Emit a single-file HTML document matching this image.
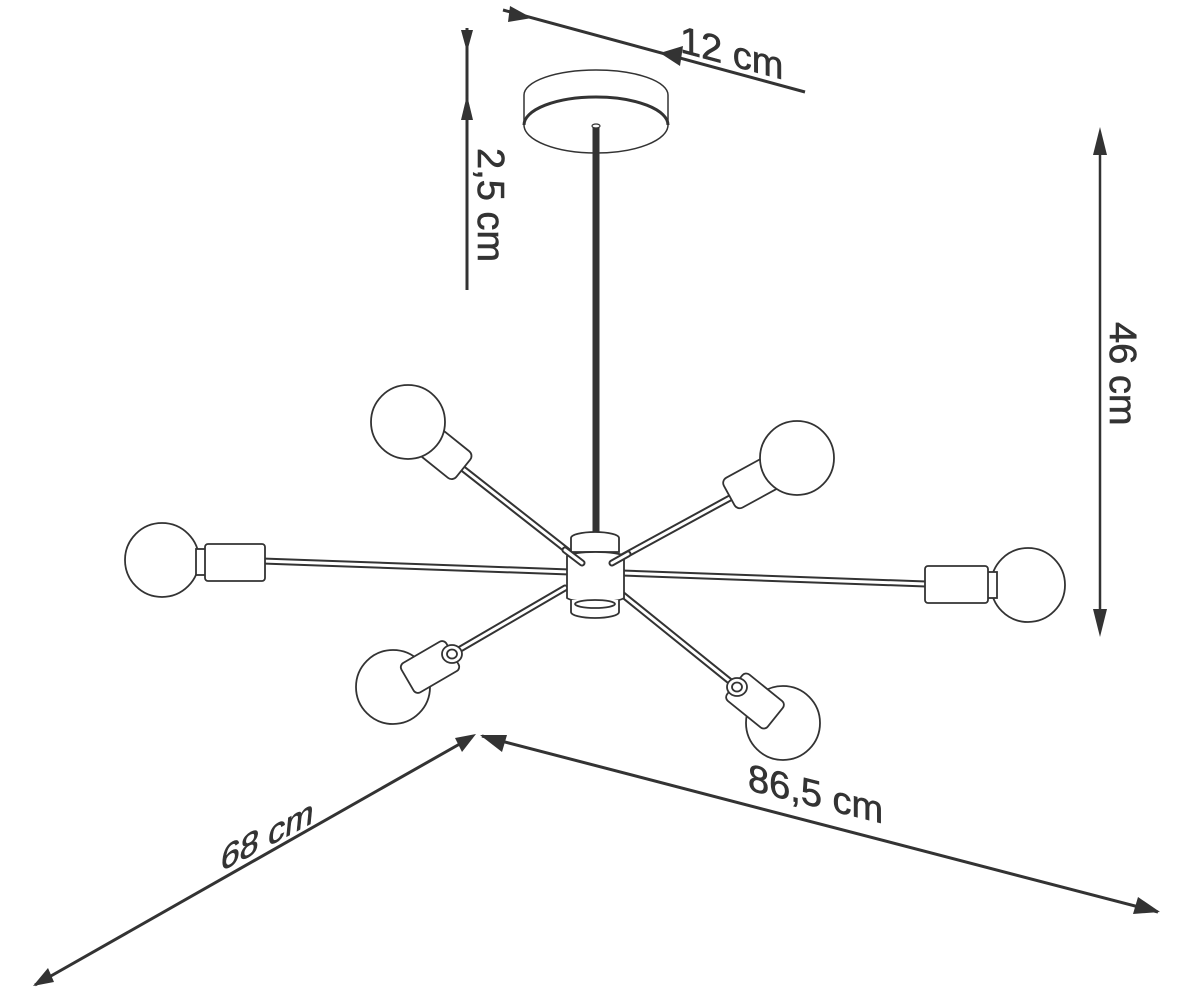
<!DOCTYPE html>
<html><head><meta charset="utf-8"><style>
html,body{margin:0;padding:0;background:#fff;}
svg{display:block;}
text{font-family:"Liberation Sans",sans-serif;fill:#333;stroke:#333;stroke-width:0.6;}
</style></head><body>
<svg width="1200" height="1006" viewBox="0 0 1200 1006" xmlns="http://www.w3.org/2000/svg">
<g stroke="#333" stroke-width="3" fill="none">
<line x1="503" y1="10" x2="805" y2="92"/>
<path d="M510,6 L532,18 L508,22 z" fill="#333" stroke="none"/>
<path d="M660,53 L683,46 L680,66 z" fill="#333" stroke="none"/>
<line x1="467" y1="28" x2="467" y2="290"/>
<path d="M461,30 L473,30 L467,52 z" fill="#333" stroke="none"/>
<path d="M467,95 L473,120 L461,120 z" fill="#333" stroke="none"/>
<line x1="1100" y1="135" x2="1100" y2="628" stroke-width="2.5"/>
<path d="M1100,127 L1107,155 L1093,155 z" fill="#333" stroke="none"/>
<path d="M1100,637 L1107,609 L1093,609 z" fill="#333" stroke="none"/>
<line x1="482" y1="736" x2="1158" y2="912"/>
<path d="M480,735 L507,735 L502,752 z" fill="#333" stroke="none"/>
<path d="M1160,912 L1133,914 L1138,897 z" fill="#333" stroke="none"/>
<line x1="472" y1="737" x2="35" y2="985"/>
<path d="M476,734 L462,752 L455,738 z" fill="#333" stroke="none"/>
<path d="M33,986 L48,968 L54,982 z" fill="#333" stroke="none"/>
</g>
<text font-size="38" transform="translate(680,52) skewY(15)">12 cm</text>
<text font-size="38" transform="translate(478,148) rotate(90)">2,5 cm</text>
<text font-size="38" transform="translate(1110,322) rotate(90)">46 cm</text>
<text font-size="38" transform="translate(748,790) skewY(14)">86,5 cm</text>
<text font-size="34" transform="translate(220,872) skewY(-28) skewX(-6)">68 cm</text>

<g stroke="#333" fill="#fff">
<path d="M524,95 L524,125 A72,28 0 0 0 668,125 L668,95" stroke-width="1.5"/>
<path d="M524,95 A72,25 0 0 1 668,95" stroke-width="1.5" fill="none"/>
<path d="M524,125 A72,28 0 0 1 668,125" fill="none" stroke-width="3"/>
</g>
<line x1="596" y1="126" x2="596" y2="532" stroke="#333" stroke-width="7"/>
<ellipse cx="596" cy="126" rx="4" ry="2" fill="#fff" stroke="#333" stroke-width="1.2"/>

<g stroke-linecap="round">
<g stroke="#333" stroke-width="7">
<line x1="262" y1="561" x2="570" y2="572"/>
<line x1="622" y1="573" x2="926" y2="584"/>
<line x1="462" y1="468" x2="583" y2="563"/>
<line x1="730" y1="498" x2="611" y2="563"/>
<line x1="565" y1="588" x2="450" y2="655"/>
<line x1="623" y1="595" x2="737" y2="687"/>
</g>
<g stroke="#fff" stroke-width="3">
<line x1="262" y1="561" x2="570" y2="572"/>
<line x1="622" y1="573" x2="926" y2="584"/>
<line x1="462" y1="468" x2="583" y2="563"/>
<line x1="730" y1="498" x2="611" y2="563"/>
<line x1="565" y1="588" x2="450" y2="655"/>
<line x1="623" y1="595" x2="737" y2="687"/>
</g>
</g>

<g stroke="#333" stroke-width="1.8" fill="#fff">
<path d="M571,538 A24,6 0 0 1 619,538 L619,552 L571,552 z"/>
<path d="M567,556 A29,5 0 0 1 624,556 L624,598 A29,5 0 0 1 567,598 z"/>
<path d="M571,600 L571,612 A24,6 0 0 0 619,612 L619,600"/>
<ellipse cx="595" cy="604" rx="20" ry="4" fill="none"/>
</g>
<g stroke-linecap="round">
<line x1="565" y1="550" x2="582" y2="563" stroke="#333" stroke-width="7"/>
<line x1="565" y1="550" x2="582" y2="563" stroke="#fff" stroke-width="3"/>
<line x1="628" y1="554" x2="612" y2="563" stroke="#333" stroke-width="7"/>
<line x1="628" y1="554" x2="612" y2="563" stroke="#fff" stroke-width="3"/>
</g>

<g stroke="#333" stroke-width="1.8" fill="#fff">
<circle cx="162" cy="560" r="37"/>
<rect x="196" y="549" width="12" height="26"/>
<rect x="205" y="544" width="60" height="37" rx="3"/>
<circle cx="1028" cy="585" r="37"/>
<rect x="985" y="572" width="12" height="26"/>
<rect x="925" y="566" width="63" height="37" rx="3"/>
<rect x="-26" y="-17" width="52" height="34" rx="6" transform="translate(443,452) rotate(38.7)"/>
<circle cx="408" cy="422" r="37"/>
<rect x="-26" y="-17" width="52" height="34" rx="6" transform="translate(752,483) rotate(-28.6)"/>
<circle cx="797" cy="458" r="37"/>
<circle cx="393" cy="687" r="37"/>
<rect x="-26" y="-17" width="52" height="34" rx="5" transform="translate(430,667) rotate(-30.2)"/>
<ellipse cx="452" cy="654" rx="10" ry="9"/>
<ellipse cx="452" cy="654" rx="5" ry="4.5"/>
<circle cx="783" cy="723" r="37"/>
<rect x="-26" y="-17" width="52" height="34" rx="5" transform="translate(755,701) rotate(38.9)"/>
<ellipse cx="737" cy="687" rx="10" ry="9"/>
<ellipse cx="737" cy="687" rx="5" ry="4.5"/>
</g>
</svg>
</body></html>
